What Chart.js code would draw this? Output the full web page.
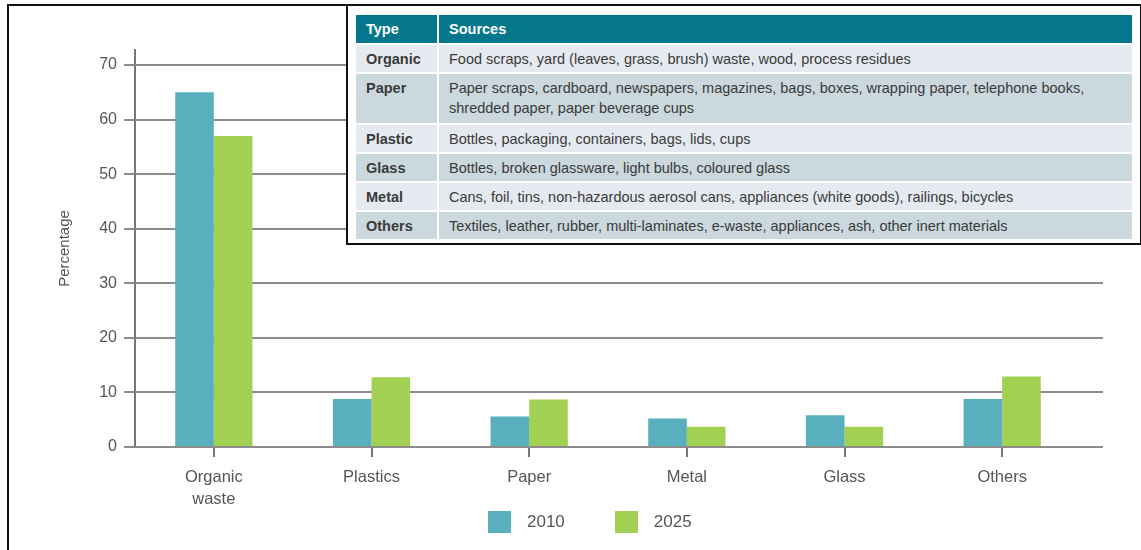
<!DOCTYPE html>
<html>
<head>
<meta charset="utf-8">
<script src="https://cdn.jsdelivr.net/npm/chart.js@4/dist/chart.umd.min.js"></script>
<style>
  html, body { margin: 0; padding: 0; background: #fff; }
  body { width: 1141px; height: 550px; position: relative; overflow: hidden;
    font-family: "Liberation Sans", Arial, Helvetica, sans-serif; }
  #frame { position: absolute; left: 7px; top: 4px; width: 1200px; height: 600px;
    border-left: 2px solid #111; border-top: 2px solid #111; }
  #chartBox { position: absolute; left: 0; top: 0; width: 1141px; height: 550px; }
  #legend { position: absolute; top: 511px; left: 488px; display: flex; align-items: center;
    font-size: 17px; color: #555; }
  #legend .item { display: flex; align-items: center; margin-right: 50px; }
  #legend .sw { width: 23px; height: 22px; margin-right: 16px; }
  #sources { position: absolute; left: 346px; top: 4px; width: 776px; height: 225px;
    background: #fff; border: 2px solid #111; padding: 8px 8px 4px 8px; }
  #sources table { border-collapse: separate; border-spacing: 0 2px; width: 100%;
    font-size: 14.5px; color: #3a3a3a; margin-top: -1px; }
  #sources th { background: #04778c; color: #fff; text-align: left; font-weight: bold;
    height: 28px; padding: 0 10px; }
  #sources td { padding: 0 10px; height: 27px; line-height: 20px; }
  #sources td.type { font-weight: bold; width: 61px; border-right: 2px solid #fff; }
  #sources th.type { border-right: 2px solid #fff; }
  #sources tr.light td { background: #e5eaf0; }
  #sources tr.dark td { background: #cbd8de; }
  #sources tr.tall td { height: 45px; vertical-align: top; padding-top: 4px; }
</style>
</head>
<body>
<div id="frame"></div>
<div id="chartBox"><canvas id="chart" width="1141" height="550"></canvas></div>
<div id="legend"></div>
<div id="sources"><table id="srcTable"></table></div>
<script>
const CATEGORIES = [["Organic", "waste"], "Plastics", "Paper", "Metal", "Glass", "Others"];
const SERIES_NAMES = ["2010", "2025"];
const VALUES_2010 = [65, 8.8, 5.6, 5.2, 5.8, 8.8];
const VALUES_2025 = [57, 12.8, 8.7, 3.7, 3.7, 12.9];
const Y_TICKS = [0, 10, 20, 30, 40, 50, 60, 70];

const SOURCE_TYPES = ["Organic", "Paper", "Plastic", "Glass", "Metal", "Others"];
const SOURCE_TEXTS = [
  "Food scraps, yard (leaves, grass, brush) waste, wood, process residues",
  "Paper scraps, cardboard, newspapers, magazines, bags, boxes, wrapping paper, telephone books,<br>shredded paper, paper beverage cups",
  "Bottles, packaging, containers, bags, lids, cups",
  "Bottles, broken glassware, light bulbs, coloured glass",
  "Cans, foil, tins, non-hazardous aerosol cans, appliances (white goods), railings, bicycles",
  "Textiles, leather, rubber, multi-laminates, e-waste, appliances, ash, other inert materials",
];

const COLORS = ["#59afbd", "#a2d052"];
const TEXT_COLOR = "#555";
const GRID_COLOR = "#8c8c8c";

function renderSourceTable() {
  const table = document.getElementById("srcTable");
  let html = `<tr><th class="type">Type</th><th>Sources</th></tr>`;
  SOURCE_TYPES.forEach((type, idx) => {
    const cls = (idx % 2 === 0 ? "light" : "dark") + (idx === 1 ? " tall" : "");
    html += `<tr class="${cls}"><td class="type">${type}</td><td>${SOURCE_TEXTS[idx]}</td></tr>`;
  });
  table.innerHTML = html;
}

function renderLegend() {
  const legend = document.getElementById("legend");
  legend.innerHTML = SERIES_NAMES.map((name, idx) =>
    `<div class="item"><div class="sw" style="background:${COLORS[idx]}"></div>${name}</div>`
  ).join("");
}

// horizontal grid lines run a bit past the last category
const gridLines = {
  id: "gridLines",
  beforeDatasetsDraw(chart) {
    const { ctx, chartArea, scales } = chart;
    ctx.save();
    ctx.strokeStyle = GRID_COLOR;
    ctx.lineWidth = 2;
    Y_TICKS.forEach((v) => {
      const y = Math.round(scales.y.getPixelForValue(v));
      ctx.beginPath();
      ctx.moveTo(chartArea.left, y);
      ctx.lineTo(chartArea.right + 22, y);
      ctx.stroke();
    });
    ctx.restore();
  },
};

function buildChart() {
  const family = '"Liberation Sans", Arial, Helvetica, sans-serif';
  return new Chart(document.getElementById("chart"), {
    type: "bar",
    data: {
      labels: CATEGORIES,
      datasets: [
        { label: SERIES_NAMES[0], data: VALUES_2010, backgroundColor: COLORS[0] },
        { label: SERIES_NAMES[1], data: VALUES_2025, backgroundColor: COLORS[1] },
      ],
    },
    options: {
      responsive: false,
      animation: false,
      layout: { padding: { top: 50, right: 60, left: 0, bottom: 0 } },
      datasets: { bar: { categoryPercentage: 0.49, barPercentage: 1 } },
      plugins: { legend: { display: false }, tooltip: { enabled: false } },
      scales: {
        x: {
          grid: { drawOnChartArea: false, offset: false, tickLength: 10, color: "#777", lineWidth: 2 },
          border: { display: false },
          ticks: { font: { family, size: 16.5, lineHeight: 1.3 }, color: TEXT_COLOR, padding: 10, maxRotation: 0 },
          afterFit: (s) => { s.height = 103; },
        },
        y: {
          min: 0,
          max: 72.75,
          grid: { drawOnChartArea: false, tickLength: 11, color: GRID_COLOR, lineWidth: 2 },
          border: { display: true, color: "#777", width: 2 },
          ticks: { stepSize: 10, includeBounds: false, font: { family, size: 16 }, color: TEXT_COLOR, padding: 7 },
          title: {
            display: true,
            text: "Percentage",
            color: TEXT_COLOR,
            font: { family, size: 15 },
            padding: { top: 56, bottom: 0 },
          },
          afterFit: (s) => { s.width = 135; },
        },
      },
    },
    plugins: [gridLines],
  });
}

renderSourceTable();
renderLegend();
buildChart();
</script>
</body>
</html>
